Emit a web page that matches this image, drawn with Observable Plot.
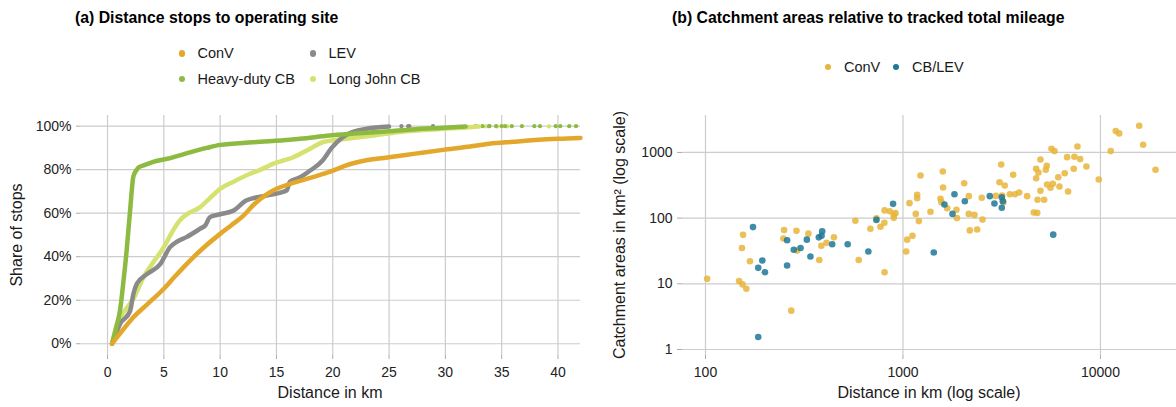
<!DOCTYPE html>
<html><head><meta charset="utf-8">
<script src="https://cdn.jsdelivr.net/npm/d3@7"></script>
<script src="https://cdn.jsdelivr.net/npm/@observablehq/plot@0.6"></script>
<style>
body{margin:0;background:#fff;font-family:"Liberation Sans",Arial,Helvetica,sans-serif;}
#wrap{position:relative;width:1176px;height:407px;overflow:hidden;background:#fff;}
#wrap svg{position:absolute;top:0;}
.t{position:absolute;white-space:nowrap;color:#111;line-height:1;}
.title{font-weight:bold;font-size:15.8px;color:#000;}
.leg{font-size:14.5px;color:#1a1a1a;}
.axt{font-size:16px;color:#1a1a1a;}
.dot{position:absolute;border-radius:50%;}
</style></head><body><div id="wrap"></div>
<script>
// ---------- Panel (a): ECDF of distance stops to operating site ----------
const seriesNames = ["ConV", "LEV", "Heavy-duty CB", "Long John CB"];
const seriesColors = ["#E3A82B", "#8A8A8A", "#8DBA41", "#D6E26F"];

const convKm    = [0.4, 1.0, 2.3, 3.5, 5.0, 6.0, 7.0, 8.5, 10, 11, 12, 13, 14.1, 15, 16.2, 18, 19.7, 21.5, 23, 25, 27.5, 29.8, 32, 33.9, 36, 38, 40, 42];
const convShare = [0, 0.04, 0.122, 0.18, 0.253, 0.31, 0.365, 0.44, 0.505, 0.545, 0.585, 0.64, 0.685, 0.712, 0.735, 0.762, 0.79, 0.825, 0.843, 0.857, 0.875, 0.891, 0.905, 0.919, 0.928, 0.936, 0.942, 0.946];

const levKm     = [0.4, 1.1, 2.0, 2.3, 2.6, 3.5, 4.7, 5.55, 6.2, 7.0, 8.2, 8.7, 9.1, 10, 11.2, 12.3, 13, 14.1, 15.9, 16.2, 17.1, 18, 19.1, 19.9, 20.8, 22, 23, 25];
const levShare  = [0, 0.09, 0.15, 0.23, 0.276, 0.32, 0.367, 0.444, 0.47, 0.49, 0.528, 0.545, 0.582, 0.595, 0.612, 0.658, 0.67, 0.681, 0.704, 0.745, 0.765, 0.796, 0.842, 0.90, 0.946, 0.977, 0.988, 0.998];
const levTailKm = [26.1, 26.7, 26.8, 28.9, 33.9];

const hdKm      = [0.4, 0.8, 1.1, 1.4, 1.7, 2.0, 2.3, 2.6, 2.75, 3.2, 4, 5.3, 7.0, 8.8, 10, 12.9, 16.2, 17.1, 19.7, 22, 25, 27, 29.5, 31.8];
const hdShare   = [0, 0.08, 0.15, 0.28, 0.43, 0.61, 0.77, 0.80, 0.81, 0.82, 0.835, 0.85, 0.875, 0.90, 0.914, 0.926, 0.938, 0.942, 0.957, 0.966, 0.977, 0.985, 0.992, 0.998];
const hdTailKm  = [32.7, 33.3, 33.9, 34.5, 35.0, 35.3, 35.9, 36.8, 37.9, 38.4, 39.8, 40.2, 41, 41.6];

const ljKm      = [0.4, 0.83, 1.5, 2.3, 3.2, 4.0, 5.0, 5.7, 6.4, 7.2, 8.2, 9.0, 10, 11.2, 12.6, 13.6, 14.7, 15.5, 16.5, 17.7, 19.1, 20.0, 21.2, 23.6, 26.5, 28, 29.8, 31.5, 33];
const ljShare   = [0, 0.09, 0.15, 0.207, 0.306, 0.37, 0.444, 0.51, 0.566, 0.60, 0.627, 0.665, 0.712, 0.745, 0.78, 0.80, 0.827, 0.84, 0.857, 0.888, 0.926, 0.935, 0.942, 0.957, 0.977, 0.982, 0.988, 0.993, 0.998];
const ljTailKm  = [33.6, 34.6, 35.5, 39.2];

const leftXTicks = [0, 5, 10, 15, 20, 25, 30, 35, 40];
const leftYTicks = [0, 0.2, 0.4, 0.6, 0.8, 1.0];

// ---------- Panel (b): catchment areas vs total mileage ----------
const convDist = [102,155,153,168,148,154,161,250,248,289,332,291,272,377,386,410,447,574,597,684,734,769,805,807,807,857,898,916,898,1038,1050,1117,1079,1161,1203,1180,1180,1227,1378,1591,1596,1549,1566,1675,1866,1875,2042,2155,2155,2180,2301,2375,2506,2528,2953,3083,3143,3276,3226,3179,3478,3615,3698,3874,4252,4593,4783,4724,4724,4853,4967,4967,4800,5187,5285,5345,5370,5585,5649,5737,5852,6113,6201,6593,6778,6856,7322,7382,7648,7893,8491,9802,11274,11950,12440,15710,16450,19010];
const convArea = [11.9,55.6,35,22,11,9.8,8.4,66,49,64,58,32,3.9,23,38,42,51,91,23,69,99,74,85,131,15,127,101,119,113,31,47,54,169,116,90,226,201,446,125,513,292,197,175,141,134,100,340,216,116,65,112,67,204,95,218,352,656,314,175,221,231,457,231,245,216,122,120,405,564,495,782,260,190,190,545,626,325,290,1138,333,1047,420,303,483,847,254,564,859,1234,791,612,387,1047,2114,1950,2552,1310,545];
const cbDist = [174,185,194,200,185,259,259,280,303,326,340,375,390,387,438,525,668,734,891,1432,1622,1782,1823,2057,2752,2905,3166,3203,3166,5765];
const cbArea = [73,17.5,22.6,15,1.55,46,19,33,35,47,26,51,63,54,40,40,31,94,165,30,161,116,231,181,216,167,208,181,144,56];
const rightNames = ["ConV", "CB/LEV"];
const rightColors = ["#E6B53A", "#1E7896"];
const rightXTicks = [100, 1000, 10000];
const rightYTicks = [1, 10, 100, 1000];

// ---------- build tables ----------
const zip = (xs, ys, s) => xs.map((x, i) => ({x, y: ys[i], s}));
const ecdf = [
  ...zip(ljKm, ljShare, "Long John CB"),
  ...zip(levKm, levShare, "LEV"),
  ...zip(hdKm, hdShare, "Heavy-duty CB"),
  ...zip(convKm, convShare, "ConV")
];
const tails = [
  ...ljTailKm.map(x => ({x, y: 0.999, s: "Long John CB"})),
  ...levTailKm.map(x => ({x, y: 1.0, s: "LEV"})),
  ...hdTailKm.map(x => ({x, y: 1.0, s: "Heavy-duty CB"}))
];
const scatter = [...zip(convDist, convArea, "ConV"), ...zip(cbDist, cbArea, "CB/LEV")];

const font = "Liberation Sans, Arial, Helvetica, sans-serif";
const grid = {stroke: "#cccccc", strokeOpacity: 1, strokeWidth: 1.2};

const left = Plot.plot({
  width: 590, height: 407,
  marginLeft: 80, marginRight: 10, marginTop: 115, marginBottom: 52,
  style: {fontFamily: font, fontSize: "14px", color: "#222", background: "transparent", overflow: "visible"},
  x: {domain: [-2.4, 42]},
  y: {domain: [-0.054, 1.049]},
  color: {domain: seriesNames, range: seriesColors},
  marks: [
    Plot.gridX(leftXTicks, grid),
    Plot.gridY(leftYTicks, grid),
    Plot.axisX(leftXTicks, {tickSize: 4, tickPadding: 8, stroke: "#aaa", label: null, fontSize: 14}),
    Plot.axisY(leftYTicks, {tickSize: 4, tickPadding: 5, stroke: "#aaa", label: null, fontSize: 14, tickFormat: d => Math.round(d * 100) + "%"}),
    Plot.dot(tails, {x: "x", y: "y", r: 2.1, fill: "s", stroke: null}),
    Plot.line(ecdf, {x: "x", y: "y", z: "s", stroke: "s", strokeWidth: 4.5, curve: "monotone-x", strokeLinecap: "round", strokeLinejoin: "round"})
  ]
});

const right = Plot.plot({
  width: 586, height: 407,
  marginLeft: 92, marginRight: 0, marginTop: 115, marginBottom: 52,
  style: {fontFamily: font, fontSize: "14px", color: "#222", background: "transparent", overflow: "visible"},
  x: {type: "log", domain: [76.5, 24270]},
  y: {type: "log", domain: [0.81, 3650]},
  color: {domain: rightNames, range: rightColors},
  marks: [
    Plot.gridX(rightXTicks, grid),
    Plot.gridY(rightYTicks, grid),
    Plot.axisX(rightXTicks, {tickSize: 4, tickPadding: 8, stroke: "#aaa", label: null, fontSize: 14, tickFormat: d => String(d)}),
    Plot.axisY(rightYTicks, {tickSize: 5, tickPadding: 5, stroke: "#aaa", label: null, fontSize: 14, tickFormat: d => String(d)}),
    Plot.dot(scatter, {x: "x", y: "y", fill: "s", r: 3.3, fillOpacity: 0.85, stroke: null})
  ]
});

const wrap = document.getElementById("wrap");
left.style.left = "0px";
right.style.left = "590px";
wrap.appendChild(left);
wrap.appendChild(right);

function text(str, cls, x, y, extra) {
  const d = document.createElement("div");
  d.className = "t " + cls;
  d.textContent = str;
  d.style.left = x + "px";
  d.style.top = y + "px";
  if (extra) Object.assign(d.style, extra);
  wrap.appendChild(d);
  return d;
}
function dot(color, cx, cy, r) {
  const d = document.createElement("div");
  d.className = "dot";
  d.style.background = color;
  d.style.width = d.style.height = (2 * r) + "px";
  d.style.left = (cx - r) + "px";
  d.style.top = (cy - r) + "px";
  wrap.appendChild(d);
}

// titles
text("(a) Distance stops to operating site", "title", 75, 10);
text("(b) Catchment areas relative to tracked total mileage", "title", 672, 10);

// legend (a): 2 columns x 2 rows
const legA = [
  {n: "ConV", c: seriesColors[0], x: 182, y: 53.3},
  {n: "LEV", c: seriesColors[1], x: 313, y: 53.3},
  {n: "Heavy-duty CB", c: seriesColors[2], x: 182, y: 79},
  {n: "Long John CB", c: seriesColors[3], x: 313, y: 79}
];
for (const l of legA) {
  dot(l.c, l.x, l.y, 3.4);
  text(l.n, "leg", l.x + 15.5, l.y - 7.2);
}
// legend (b)
dot(rightColors[0], 828, 66.7, 3.2);
text(rightNames[0], "leg", 844, 59.5);
dot(rightColors[1], 896, 66.7, 3.2);
text(rightNames[1], "leg", 912, 59.5);

// axis titles
text("Distance in km", "axt", 330, 384.5, {transform: "translateX(-50%)"});
text("Distance in km (log scale)", "axt", 929, 384.5, {transform: "translateX(-50%)"});
text("Share of stops", "axt", 17, 235, {transform: "translate(-50%,-50%) rotate(-90deg)"});
text("Catchment areas in km² (log scale)", "axt", 620, 235, {transform: "translate(-50%,-50%) rotate(-90deg)"});
</script>
</body></html>
